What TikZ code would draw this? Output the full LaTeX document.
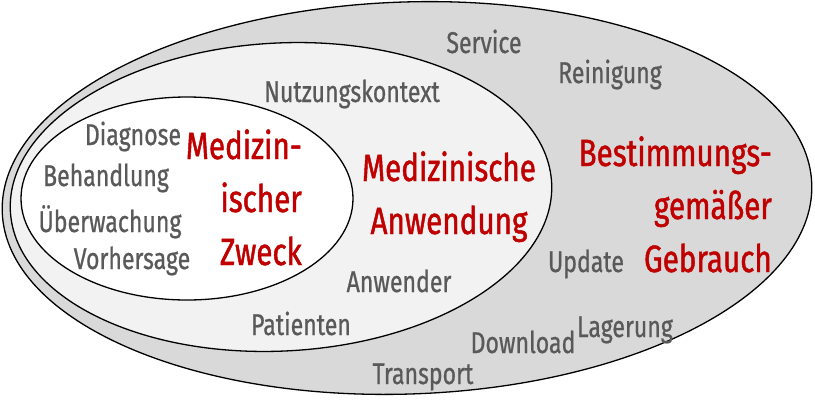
\documentclass[tikz,border=0pt]{standalone}
\usepackage{fontspec}
\setmainfont{Fira Sans}[FakeStretch=0.77,FakeBold=0.7]
\newfontfamily\headfont{Fira Sans}[FakeStretch=0.78,FakeBold=1.2]
\usetikzlibrary{shapes.geometric}
\definecolor{outerfill}{HTML}{D9D9D9}
\definecolor{midfill}{HTML}{F2F2F2}
\definecolor{redtxt}{HTML}{C00000}
\definecolor{graytxt}{HTML}{595959}
\begin{document}
\begin{tikzpicture}[x=1pt,y=-1pt,
  oval/.style={ellipse,draw=black,line width=1.3pt,inner sep=0pt},
  lab/.style={anchor=base,inner sep=0pt,text=graytxt,font=\fontsize{30}{30}\selectfont},
  head/.style={inner sep=0pt,text=redtxt,font=\headfont\fontsize{38}{53}\selectfont}]
\useasboundingbox (0,0) rectangle (815,413);
\node[oval,fill=outerfill,minimum width=810pt,minimum height=392pt,rotate=2] (outer) at (407,198) {};
\node[oval,fill=midfill,minimum width=542pt,minimum height=308pt,rotate=3] (middle) at (281,197) {};
\node[oval,fill=white,minimum width=332pt,minimum height=203pt] (inner) at (187,198.5) {};
% gray labels
\node[lab] (service) at (484,53) {Service};
\node[lab] (reinigung) at (610,83) {Reinigung};
\node[lab] (nutzung) at (352,102) {Nutzungskontext};
\node[lab] (diagnose) at (133,145) {Diagnose};
\node[lab] (behandlung) at (106,186) {Behandlung};
\node[lab] (ueberwachung) at (110,232) {Überwachung};
\node[lab] (vorhersage) at (132,269) {Vorhersage};
\node[lab] (update) at (586,272) {Update};
\node[lab] (anwender) at (399,292) {Anwender};
\node[lab] (patienten) at (301,335) {Patienten};
\node[lab] (download) at (523,353) {Download};
\node[lab] (lagerung) at (625,337) {Lagerung};
\node[lab] (transport) at (423,384) {Transport};
% red headings (base anchor = baseline of last line)
\node[head,align=right,anchor=base east] (zweck) at (302,265) {Medizin-\\ischer\\Zweck};
\node[head,align=center,anchor=base] (anwendung) at (449,234) {Medizinische\\Anwendung};
\node[head,align=right,anchor=base east] (gebrauch) at (772,272) {Bestimmungs-\\gemäßer\\Gebrauch};
\end{tikzpicture}
\end{document}
